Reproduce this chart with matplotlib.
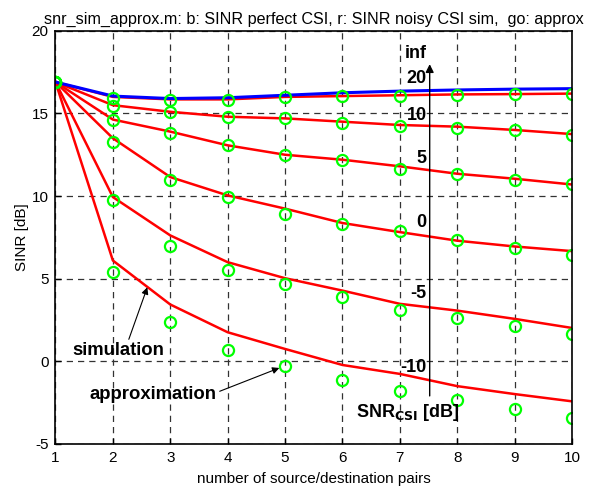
import numpy as np
from matplotlib import pyplot as plt

plt.rcParams['font.family'] = ['Liberation Sans', 'DejaVu Sans']
plt.rcParams['axes.unicode_minus'] = False  # 用连字符显示负号

# 数据：源/目的对数
n = [1, 2, 3, 4, 5, 6, 7, 8, 9, 10]

# 完美CSI下的SINR（蓝线）
sinr_perfect = [16.9, 16.05, 15.9, 15.95, 16.1, 16.25, 16.35, 16.42, 16.47, 16.5]

# 噪声CSI仿真（红线），SNR_CSI = 20, 10, 5, 0, -5, -10 dB
sim_20 = [16.9, 16.0, 15.85, 15.85, 16.0, 16.05, 16.1, 16.15, 16.17, 16.2]
sim_10 = [16.9, 15.5, 15.1, 14.8, 14.7, 14.5, 14.3, 14.2, 14.0, 13.75]
sim_5 = [16.9, 14.63, 13.9, 13.07, 12.5, 12.2, 11.8, 11.35, 11.05, 10.7]
sim_0 = [16.9, 13.5, 11.15, 10.04, 9.24, 8.37, 7.82, 7.3, 6.95, 6.67]
sim_m5 = [16.9, 9.94, 7.62, 6.0, 5.03, 4.28, 3.48, 3.07, 2.57, 2.02]
sim_m10 = [16.9, 6.1, 3.44, 1.76, 0.75, -0.22, -0.76, -1.5, -1.98, -2.42]

# 近似值（绿圈）
apx_20 = [16.9, 15.94, 15.8, 15.8, 16.0, 16.04, 16.04, 16.1, 16.2, 16.16]
apx_10 = [16.9, 15.45, 15.1, 14.8, 14.7, 14.45, 14.26, 14.1, 14.0, 13.7]
apx_5 = [16.9, 14.6, 13.84, 13.1, 12.47, 12.16, 11.66, 11.36, 11.0, 10.7]
apx_0 = [16.9, 13.3, 11.0, 9.94, 8.93, 8.28, 7.88, 7.36, 6.87, 6.45]
apx_m5 = [16.9, 9.78, 7.0, 5.54, 4.65, 3.92, 3.13, 2.6, 2.16, 1.66]
apx_m10 = [16.9, 5.4, 2.36, 0.69, -0.26, -1.13, -1.82, -2.32, -2.89, -3.43]

# SNR_CSI 标签及其高度
snr_labels = ['inf', '20', '10', '5', '0', '-5', '-10']
snr_label_y = [18.6, 17.1, 14.9, 12.27, 8.4, 4.08, -0.36]

sims = [sim_20, sim_10, sim_5, sim_0, sim_m5, sim_m10]
apxs = [apx_20, apx_10, apx_5, apx_0, apx_m5, apx_m10]

fig = plt.figure(figsize=(5.94, 4.88), dpi=100)
ax = fig.add_axes([0.0934, 0.0902, 0.8696, 0.8467])

for s in sims:
    ax.plot(n, s, color='red', lw=1.8)
ax.plot(n, sinr_perfect, color='blue', lw=2.2)
for a in apxs:
    ax.plot(n, a, 'o', mfc='none', mec=(0, 1, 0), ms=8, mew=1.6)

ax.set_xlim(1, 10)
ax.set_ylim(-5, 20)
ax.set_xticks(range(1, 11))
ax.set_yticks([-5, 0, 5, 10, 15, 20])
ax.grid(True, color='0.2', linestyle=(0, (5, 4)), lw=0.9)
ax.tick_params(direction='in', labelsize=11, length=4, width=1, pad=5)
for sp in ax.spines.values():
    sp.set_linewidth(1.2)

ax.set_title('snr_sim_approx.m: b: SINR perfect CSI, r: SINR noisy CSI sim,  go: approx',
             fontsize=11.6, pad=5)
ax.set_xlabel('number of source/destination pairs', fontsize=11, labelpad=5)
ax.set_ylabel('SINR [dB]', fontsize=11, labelpad=2)

# SNR_CSI 箭头
ax.annotate('', xy=(7.52, 18.15), xytext=(7.52, -2.26),
            arrowprops=dict(arrowstyle='-|>', color='black', lw=1, mutation_scale=12))
for lab, yy in zip(snr_labels, snr_label_y):
    ax.text(7.47, yy, lab, ha='right', va='center', fontsize=13, fontweight='bold')
ax.text(8.04, -3.1, r'SNR$_{\mathbf{CSI}}$ [dB]', ha='right', va='center',
        fontsize=13, fontweight='bold')

# 文字说明
ax.annotate('simulation', xy=(2.6, 4.48), xytext=(1.3, 0.65),
            fontsize=13.3, fontweight='bold', va='center',
            arrowprops=dict(arrowstyle='-|>', color='black', lw=0.8, mutation_scale=10,
                            shrinkA=0, shrinkB=0, relpos=(0.6, 1.0)))
ax.annotate('approximation', xy=(4.9, -0.4), xytext=(1.6, -1.98),
            fontsize=13.3, fontweight='bold', va='center',
            arrowprops=dict(arrowstyle='-|>', color='black', lw=0.8, mutation_scale=10,
                            shrinkA=0, shrinkB=0, relpos=(1.0, 0.6)))

plt.savefig('out.png', dpi=100)
